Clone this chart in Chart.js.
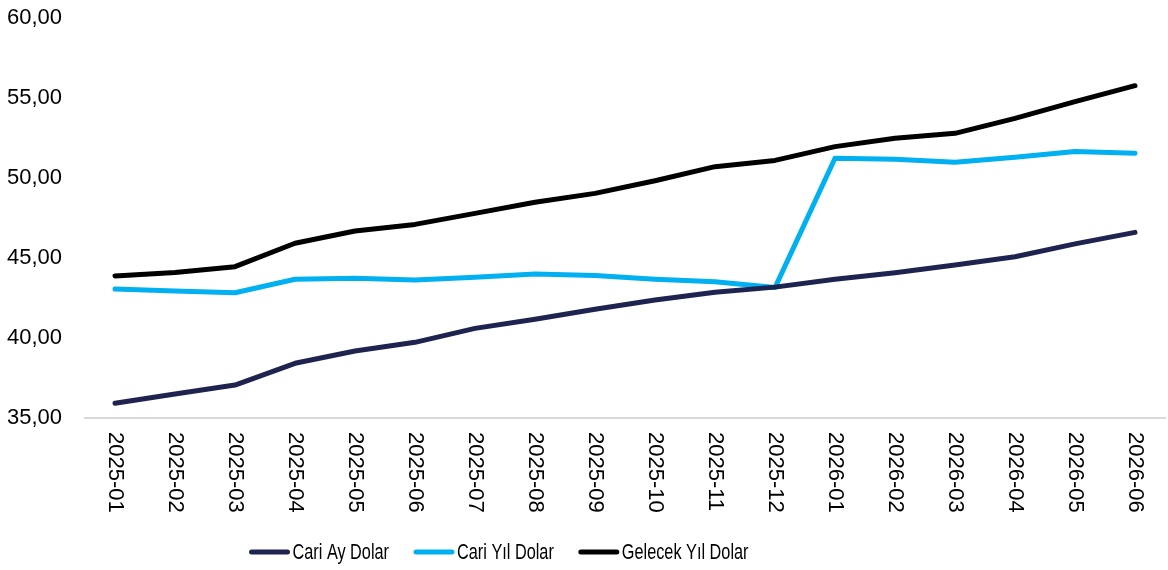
<!DOCTYPE html>
<html>
<head>
<meta charset="utf-8">
<script src="https://cdn.jsdelivr.net/npm/chart.js@4.4.1/dist/chart.umd.min.js"></script>
<style>
  html, body { margin: 0; padding: 0; background: #fff; }
  #wrap { width: 1168px; height: 570px; }
</style>
</head>
<body>
<div id="wrap"><canvas id="chart" width="1168" height="570"></canvas></div>
<script>
try {

// month labels on the x axis
const months = ['2025-01','2025-02','2025-03','2025-04','2025-05','2025-06','2025-07','2025-08','2025-09',
  '2025-10','2025-11','2025-12','2026-01','2026-02','2026-03','2026-04','2026-05','2026-06'];

// series values
const cariAy = [35.92, 36.5, 37.06, 38.42, 39.19, 39.73, 40.6, 41.17, 41.8, 42.37, 42.86, 43.18, 43.67, 44.08, 44.56, 45.08, 45.88, 46.6];
const cariYil = [43.06, 42.94, 42.83, 43.67, 43.73, 43.63, 43.79, 44.0, 43.9, 43.67, 43.52, 43.15, 51.23, 51.17, 50.98, 51.29, 51.65, 51.54];
const gelecekYil = [43.88, 44.1, 44.46, 45.92, 46.69, 47.1, 47.79, 48.48, 49.04, 49.83, 50.71, 51.1, 51.96, 52.48, 52.79, 53.73, 54.77, 55.77];

const yTicks = [35, 40, 45, 50, 55, 60];

const FONT = "'Liberation Sans', Arial, sans-serif";

// x labels are rotated clockwise (read top to bottom), Chart.js only rotates the other way
const rotatedLabels = {
  id: 'rotatedLabels',
  afterDraw(chart) {
    const ctx = chart.ctx;
    const xs = chart.scales.x;
    ctx.save();
    ctx.fillStyle = '#000';
    ctx.font = '22px ' + FONT;
    ctx.textAlign = 'left';
    ctx.textBaseline = 'middle';
    months.forEach((m, i) => {
      const x = xs.getPixelForValue(i);
      ctx.save();
      ctx.translate(x, chart.chartArea.bottom + 14);
      ctx.rotate(Math.PI / 2);
      ctx.fillText(m, 0, 0);
      ctx.restore();
    });
    ctx.restore();
  }
};

// legend in the original is a narrow font with a short gap after each swatch
const lineLegend = {
  id: 'lineLegend',
  afterDraw(chart) {
    const ctx = chart.ctx;
    const sx = 0.74;   // squeeze text to look condensed
    ctx.save();
    ctx.font = '22px ' + FONT;
    const items = chart.data.datasets.map(d => ({ text: d.label, color: d.borderColor, w: ctx.measureText(d.label).width * sx }));
    const total = items.reduce((a, it) => a + 40 + 3 + it.w, 0) + 25 * (items.length - 1);
    let x = 499 - total / 2;
    const y = 552;
    items.forEach(it => {
      ctx.strokeStyle = it.color;
      ctx.lineWidth = 5;
      ctx.lineCap = 'round';
      ctx.beginPath();
      ctx.moveTo(x + 2, y);
      ctx.lineTo(x + 38, y);
      ctx.stroke();
      x += 43;
      ctx.save();
      ctx.translate(x, y);
      ctx.scale(sx, 1);
      ctx.fillStyle = '#000';
      ctx.textAlign = 'left';
      ctx.textBaseline = 'middle';
      ctx.fillText(it.text, 0, 1);
      ctx.restore();
      x += it.w + 25;
    });
    ctx.restore();
  }
};

var data = {
  labels: months,
  datasets: [
    { label: 'Cari Ay Dolar', data: cariAy, borderColor: '#1f2350', backgroundColor: '#1f2350' },
    { label: 'Cari Yıl Dolar', data: cariYil, borderColor: '#00b0f0', backgroundColor: '#00b0f0' },
    { label: 'Gelecek Yıl Dolar', data: gelecekYil, borderColor: '#000000', backgroundColor: '#000000' }
  ]
};

var options = {
  responsive: false,
  animation: false,
  layout: { padding: { top: 18, right: 3, left: 0, bottom: 0 } },
  elements: {
    line: { borderWidth: 5, tension: 0, borderCapStyle: 'round', borderJoinStyle: 'round' },
    point: { radius: 0 }
  },
  scales: {
    x: {
      offset: true,
      grid: { display: false },
      border: { display: true, color: '#d9d9d9', width: 2 },
      ticks: { display: false },
      afterFit: (s) => { s.height = 152; }
    },
    y: {
      min: 35,
      max: 60,
      afterBuildTicks: (s) => { s.ticks = yTicks.map(v => ({ value: v })); },
      grid: { display: false, drawTicks: false },
      border: { display: false },
      ticks: {
        color: '#000',
        font: { family: FONT, size: 22 },
        padding: 23,
        callback: (v) => v.toFixed(2).replace('.', ',')
      },
      afterFit: (s) => { s.width = 85; s.paddingTop = 0; s.paddingBottom = 0; }
    }
  },
  plugins: {
    tooltip: { enabled: false },
    legend: { display: false }
  }
};

new Chart(document.getElementById('chart'), {
  type: 'line',
  data: data,
  options: options,
  plugins: [rotatedLabels, lineLegend]
});

} catch (err) {
  console.error(err);
}
</script>
</body>
</html>
